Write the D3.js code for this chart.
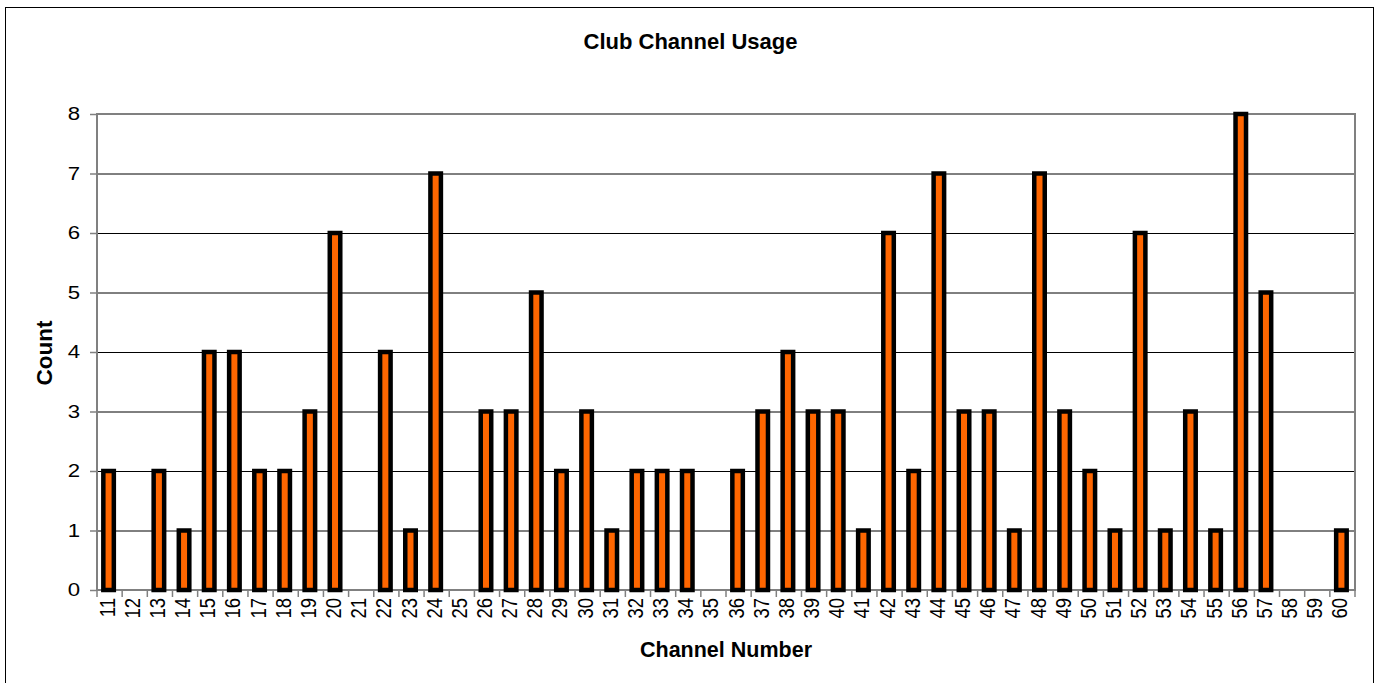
<!DOCTYPE html>
<html><head><meta charset="utf-8">
<script src="https://cdn.jsdelivr.net/npm/d3@7"></script>
<style>body{margin:0;background:#fff}svg{display:block}</style>
</head><body>
<script>
const channels = [11,12,13,14,15,16,17,18,19,20,21,22,23,24,25,26,27,28,29,30,31,32,33,34,35,36,37,38,39,40,41,42,43,44,45,46,47,48,49,50,51,52,53,54,55,56,57,58,59,60];
const counts   = [2,0,2,1,4,4,2,2,3,6,0,4,1,7,0,3,3,5,2,3,1,2,2,2,0,2,3,4,3,3,1,6,2,7,3,3,1,7,3,2,1,6,1,3,1,8,5,0,0,1];
const yTicks = [0,1,2,3,4,5,6,7,8];
const title = "Club Channel Usage", xTitle = "Channel Number", yTitle = "Count";

const FONT = "'Liberation Sans', Arial, sans-serif";
const W = 1375, H = 683;
const svg = d3.select("body").append("svg").attr("width", W).attr("height", H);
svg.append("rect").attr("x",5.5).attr("y",7.5).attr("width",1368).attr("height",690)
  .attr("fill","#fff").attr("stroke","#000").attr("stroke-width",1);

const L = 97, R = 1355, T = 114, B = 590;
const x = d3.scaleBand().domain(channels.map(String)).range([L, R]).paddingInner(0).paddingOuter(0);
const y = d3.scaleLinear().domain([0, 8]).range([B, T]);

// gridlines
svg.append("g").selectAll("line").data(yTicks.filter(d => d > 0 && d < 8)).join("line")
  .attr("x1", L).attr("x2", R).attr("y1", d => y(d) + 0.5).attr("y2", d => y(d) + 0.5)
  .attr("stroke", "#000").attr("stroke-width", 1);

// plot border
svg.append("rect").attr("x", L).attr("y", T).attr("width", R - L).attr("height", B - T)
  .attr("fill", "none").attr("stroke", "#808080").attr("stroke-width", 2);

// bars
const bw = 10.5;
svg.append("g").selectAll("rect").data(channels.map((c,i)=>({c:String(c), v:counts[i]})).filter(d=>d.v>0)).join("rect")
  .attr("x", d => x(d.c) + x.bandwidth()/2 - 1 - bw/2)
  .attr("y", d => y(d.v))
  .attr("width", bw)
  .attr("height", d => B - y(d.v))
  .attr("fill", "#ff6600").attr("stroke", "#000").attr("stroke-width", 4.5);

// y axis
const ya = svg.append("g").attr("transform", `translate(${L},0)`)
  .call(d3.axisLeft(y).tickValues(yTicks).tickFormat(d3.format("d")).tickSize(7).tickPadding(10));
ya.select(".domain").remove();
ya.selectAll("line").attr("stroke", "#808080").attr("stroke-width", 1.5);
ya.selectAll("text").attr("x", 0).attr("transform", "translate(-17,0) scale(1.2,1)")
  .attr("font-family", FONT).attr("font-size", 18.5).attr("fill", "#000");

// x axis ticks at boundaries
const bounds = channels.map(c => x(String(c))).concat([R]);
svg.append("g").selectAll("line").data(bounds).join("line")
  .attr("x1", d => d).attr("x2", d => d).attr("y1", B).attr("y2", B + 7)
  .attr("stroke", "#808080").attr("stroke-width", 1.5);
svg.append("g").selectAll("text").data(channels).join("text")
  .attr("transform", d => `translate(${x(String(d)) + x.bandwidth()/2 + 5},${B + 8}) scale(1.2,1) rotate(-90)`)
  .attr("text-anchor", "end")
  .attr("font-family", FONT).attr("font-size", 18.5).attr("fill", "#000")
  .text(d => d);

// titles
svg.append("text").attr("x", 690.5).attr("y", 48.5).attr("text-anchor", "middle")
  .attr("font-family", FONT).attr("font-size", 22).attr("font-weight", "bold").text(title);
svg.append("text").attr("x", 726).attr("y", 656.5).attr("text-anchor", "middle")
  .attr("font-family", FONT).attr("font-size", 21.5).attr("font-weight", "bold").text(xTitle);
svg.append("text").attr("transform", "translate(51.5,353) rotate(-90)").attr("text-anchor", "middle")
  .attr("font-family", FONT).attr("font-size", 22.5).attr("font-weight", "bold").text(yTitle);
</script>
</body></html>
